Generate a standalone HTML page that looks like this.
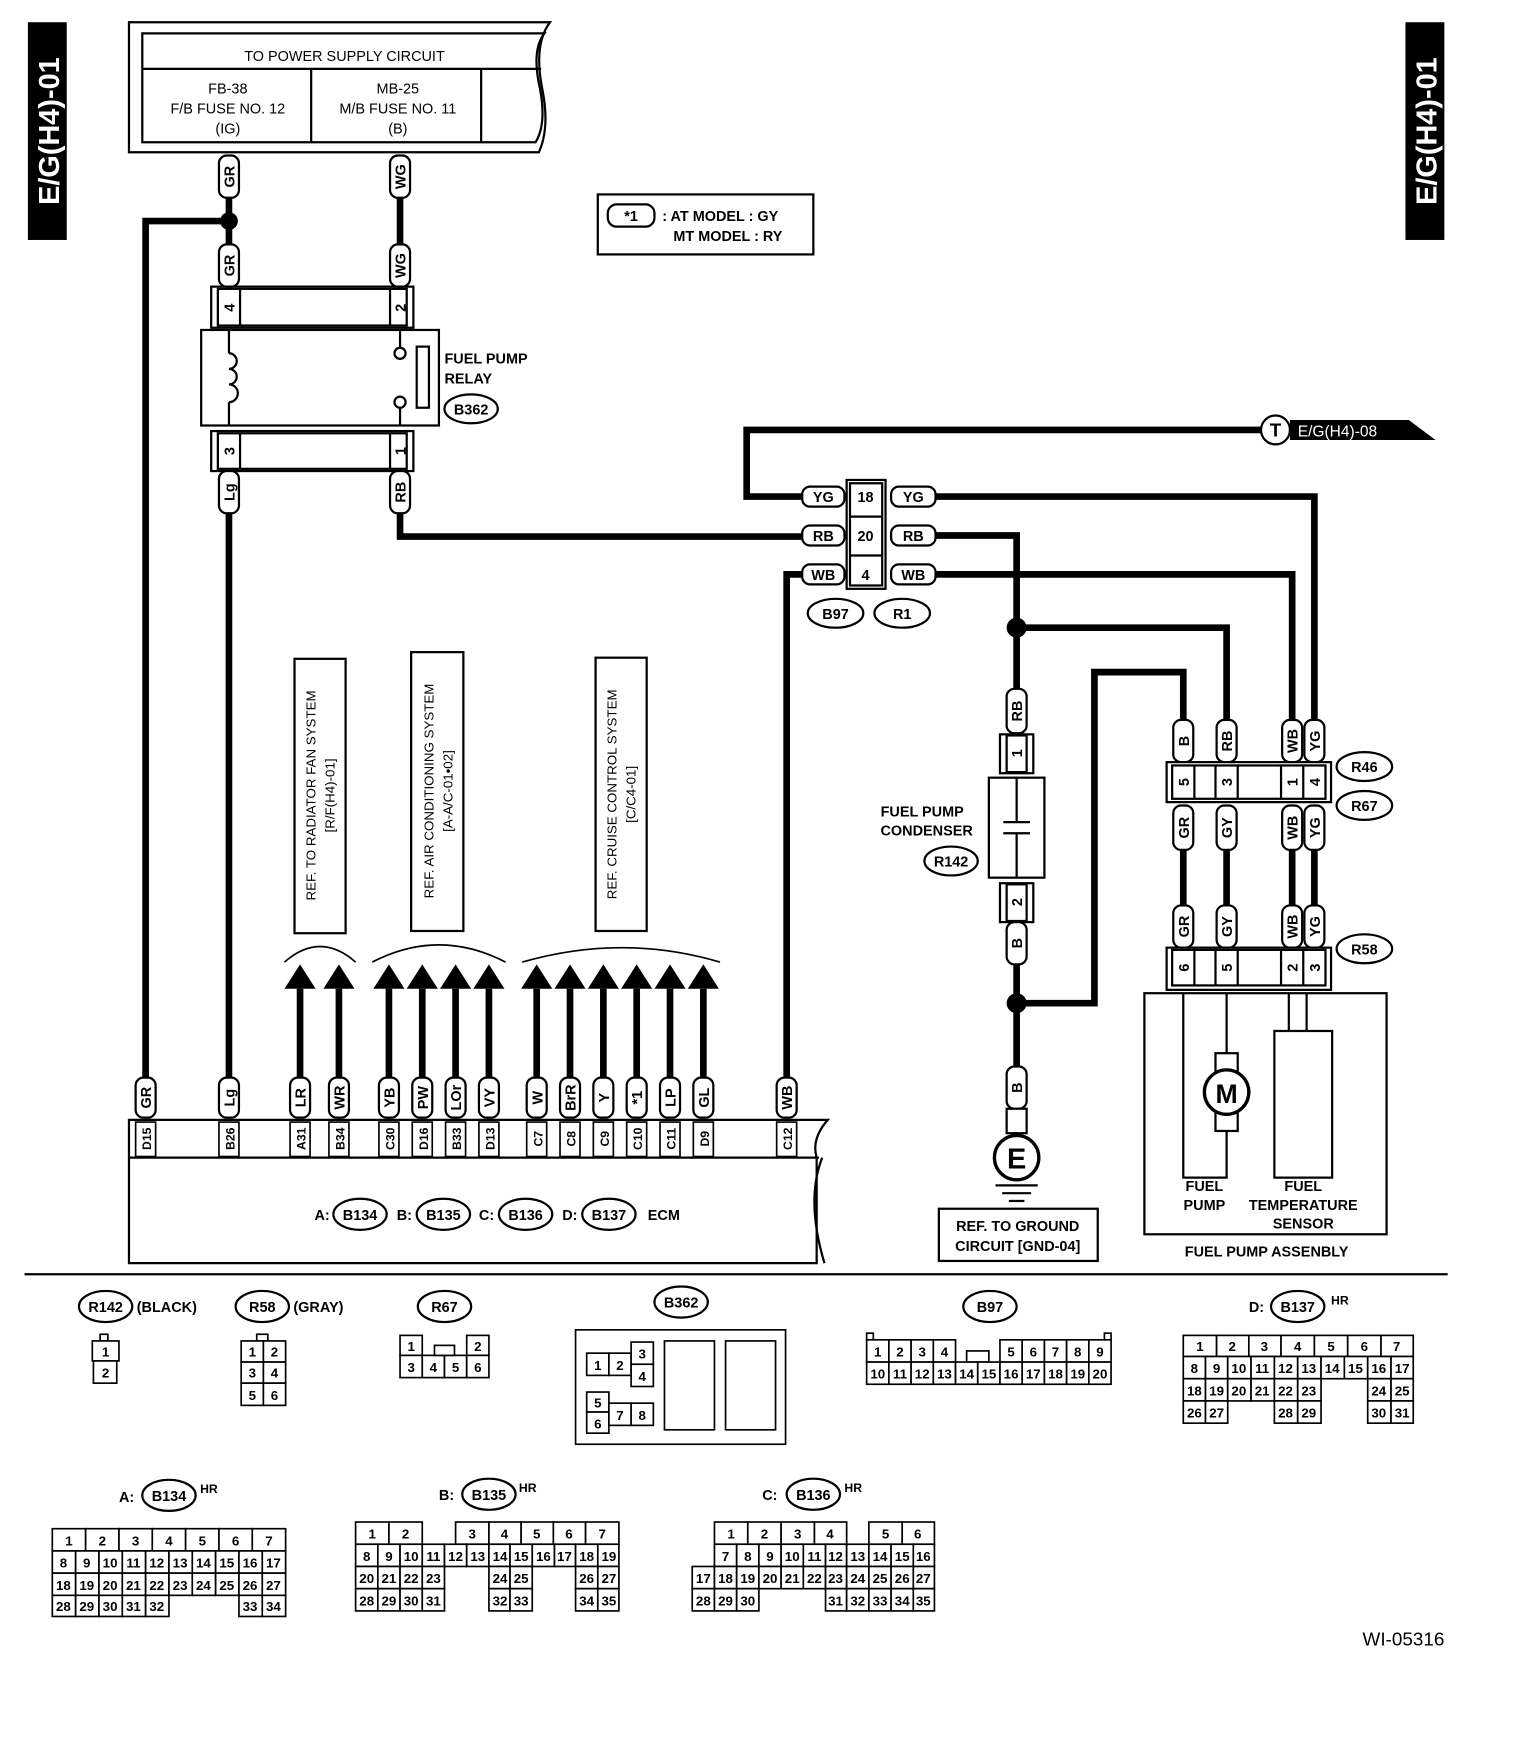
<!DOCTYPE html>
<html><head><meta charset="utf-8"><style>
html,body{margin:0;padding:0;background:#fff}
svg{display:block}
text{font-family:"Liberation Sans",sans-serif;font-weight:bold;fill:#000}
</style></head><body>
<svg width="1520" height="1742" viewBox="0 0 1368 1568" xmlns="http://www.w3.org/2000/svg">
<defs>
<style>.w{stroke:#000;stroke-width:6;fill:none}.t{stroke:#000;stroke-width:2;fill:#fff}.t1{stroke:#000;stroke-width:1.5;fill:#fff}.s{font-size:13px}.xs{font-size:11px}.n{font-size:12px;font-weight:normal}</style>
</defs>

<rect x="25" y="20" width="35" height="196" fill="#000"/>
<text transform="translate(53,118) rotate(-90)" text-anchor="middle" style="font-size:26px;fill:#fff">E/G(H4)-01</text>
<rect x="1265" y="20" width="35" height="196" fill="#000"/>
<text transform="translate(1293,118) rotate(-90)" text-anchor="middle" style="font-size:26px;fill:#fff">E/G(H4)-01</text>

<path d="M116,20 L495,20 Q480,40 488,80 Q495,115 485,137 L116,137 Z" class="t"/>
<path d="M128,30 L490,30 Q478,45 486,80 Q492,112 482,128 L128,128 Z" class="t"/>
<line x1="128" y1="62" x2="487" y2="62" stroke="#000" stroke-width="2"/>
<line x1="280" y1="62" x2="280" y2="128" stroke="#000" stroke-width="2"/>
<line x1="433" y1="62" x2="433" y2="128" stroke="#000" stroke-width="2"/>
<text x="310" y="55" text-anchor="middle" class="n" style="font-size:13px">TO POWER SUPPLY CIRCUIT</text>
<text x="205" y="84" text-anchor="middle" class="n" style="font-size:13px">FB-38</text>
<text x="205" y="102" text-anchor="middle" class="n" style="font-size:13px">F/B FUSE NO. 12</text>
<text x="205" y="120" text-anchor="middle" class="n" style="font-size:13px">(IG)</text>
<text x="358" y="84" text-anchor="middle" class="n" style="font-size:13px">MB-25</text>
<text x="358" y="102" text-anchor="middle" class="n" style="font-size:13px">M/B FUSE NO. 11</text>
<text x="358" y="120" text-anchor="middle" class="n" style="font-size:13px">(B)</text>

<g class="w">
<path d="M206,178 V220"/><path d="M360,178 V220"/>
<path d="M206,199 H131 V975"/>
<path d="M206,462 V975"/>
<path d="M360,462 V483 H722"/>
<path d="M722,447 H672 V387 H1135"/>
<path d="M842,447 H1183 V648"/>
<path d="M842,482 H915 V620"/>
<path d="M915,565 H1104 V648"/>
<path d="M842,517 H1163 V648"/>
<path d="M722,517 H708 V970"/>
<path d="M915,868 V960"/>
<path d="M915,903 H985 V605 H1065 V648"/>
<path d="M1065,765 V815"/><path d="M1104,765 V815"/><path d="M1163,765 V815"/><path d="M1183,765 V815"/>
<path d="M270,890 V970"/><path d="M305,890 V970"/>
<path d="M350,890 V970"/><path d="M380,890 V970"/><path d="M410,890 V970"/><path d="M440,890 V970"/>
<path d="M483,890 V970"/><path d="M513,890 V970"/><path d="M543,890 V970"/><path d="M573,890 V970"/><path d="M603,890 V970"/><path d="M633,890 V970"/>
</g>
<circle cx="206" cy="199" r="8"/>
<circle cx="915" cy="565" r="9"/>
<circle cx="915" cy="903" r="9"/>

<g fill="#000">
<path d="M270,868 l-14,22 h28z"/><path d="M305,868 l-14,22 h28z"/>
<path d="M350,868 l-14,22 h28z"/><path d="M380,868 l-14,22 h28z"/><path d="M410,868 l-14,22 h28z"/><path d="M440,868 l-14,22 h28z"/>
<path d="M483,868 l-14,22 h28z"/><path d="M513,868 l-14,22 h28z"/><path d="M543,868 l-14,22 h28z"/><path d="M573,868 l-14,22 h28z"/><path d="M603,868 l-14,22 h28z"/><path d="M633,868 l-14,22 h28z"/>
</g>
<g fill="none" stroke="#000" stroke-width="1.5">
<path d="M256,866 Q288,838 320,866"/>
<path d="M335,866 Q395,835 455,866"/>
<path d="M470,866 Q560,840 648,866"/>
</g>

<rect x="265" y="593" width="46" height="247" class="t"/>
<text transform="translate(284,716) rotate(-90)" text-anchor="middle" class="n" style="font-size:12px">REF. TO RADIATOR FAN SYSTEM</text>
<text transform="translate(301,716) rotate(-90)" text-anchor="middle" class="n" style="font-size:12px">[R/F(H4)-01]</text>
<rect x="370" y="587" width="47" height="251" class="t"/>
<text transform="translate(390,712) rotate(-90)" text-anchor="middle" class="n" style="font-size:12px">REF. AIR CONDITIONING SYSTEM</text>
<text transform="translate(407,712) rotate(-90)" text-anchor="middle" class="n" style="font-size:12px">[A-A/C-01•02]</text>
<rect x="536" y="592" width="46" height="246" class="t"/>
<text transform="translate(555,715) rotate(-90)" text-anchor="middle" class="n" style="font-size:12px">REF. CRUISE CONTROL SYSTEM</text>
<text transform="translate(572,715) rotate(-90)" text-anchor="middle" class="n" style="font-size:12px">[C/C4-01]</text>

<rect x="190" y="258" width="182" height="37" class="t"/>
<rect x="196" y="260" width="170" height="33" class="t"/>
<line x1="216" y1="260" x2="216" y2="293" stroke="#000" stroke-width="2"/>
<line x1="351" y1="260" x2="351" y2="293" stroke="#000" stroke-width="2"/>
<text transform="translate(211,277) rotate(-90)" text-anchor="middle" class="s">4</text>
<text transform="translate(365,277) rotate(-90)" text-anchor="middle" class="s">2</text>
<rect x="181" y="297" width="214" height="86" class="t"/>
<g fill="none" stroke="#000" stroke-width="2">
<path d="M206,297 V318"/><path d="M206,362 V383"/>
<path d="M206,318 a7,7 0 0 1 0,14 a7,7 0 0 1 0,14 a7,7 0 0 1 0,16"/>
<circle cx="360" cy="318" r="5"/><circle cx="360" cy="362" r="5"/>
<path d="M360,297 V313"/><path d="M360,367 V383"/>
<rect x="375" y="312" width="11" height="55"/>
</g>
<rect x="190" y="388" width="182" height="36" class="t"/>
<rect x="196" y="390" width="170" height="32" class="t"/>
<line x1="216" y1="390" x2="216" y2="422" stroke="#000" stroke-width="2"/>
<line x1="351" y1="390" x2="351" y2="422" stroke="#000" stroke-width="2"/>
<text transform="translate(211,406) rotate(-90)" text-anchor="middle" class="s">3</text>
<text transform="translate(365,406) rotate(-90)" text-anchor="middle" class="s">1</text>
<text x="400" y="327" class="s">FUEL PUMP</text>
<text x="400" y="345" class="s">RELAY</text>
<ellipse cx="424" cy="368" rx="24" ry="13" class="t"/>
<text x="424" y="373" text-anchor="middle" class="s">B362</text>

<g>
<rect x="197" y="140" width="18" height="38" rx="7" class="t"/><text transform="translate(211,159) rotate(-90)" text-anchor="middle" class="s">GR</text>
<rect x="351" y="140" width="18" height="38" rx="7" class="t"/><text transform="translate(365,159) rotate(-90)" text-anchor="middle" class="s">WG</text>
<rect x="197" y="220" width="18" height="38" rx="7" class="t"/><text transform="translate(211,239) rotate(-90)" text-anchor="middle" class="s">GR</text>
<rect x="351" y="220" width="18" height="38" rx="7" class="t"/><text transform="translate(365,239) rotate(-90)" text-anchor="middle" class="s">WG</text>
<rect x="197" y="424" width="18" height="38" rx="7" class="t"/><text transform="translate(211,443) rotate(-90)" text-anchor="middle" class="s">Lg</text>
<rect x="351" y="424" width="18" height="38" rx="7" class="t"/><text transform="translate(365,443) rotate(-90)" text-anchor="middle" class="s">RB</text>
</g>

<circle cx="1148" cy="387" r="13" class="t"/>
<text x="1148" y="393" text-anchor="middle" style="font-size:17px">T</text>
<path d="M1161,378 H1268 L1292,396 H1161 Z" fill="#000"/>
<text x="1168" y="393" style="font-size:14px;fill:#fff;font-weight:normal">E/G(H4)-08</text>

<rect x="762" y="432" width="35" height="98" class="t"/>
<rect x="765" y="435" width="29" height="92" class="t"/>
<line x1="765" y1="465" x2="794" y2="465" stroke="#000" stroke-width="2"/>
<line x1="765" y1="500" x2="794" y2="500" stroke="#000" stroke-width="2"/>
<text x="779" y="452" text-anchor="middle" class="s">18</text>
<text x="779" y="487" text-anchor="middle" class="s">20</text>
<text x="779" y="522" text-anchor="middle" class="s">4</text>
<g>
<rect x="722" y="438" width="38" height="18" rx="7" class="t"/><text x="741" y="452" text-anchor="middle" class="s">YG</text>
<rect x="722" y="473" width="38" height="18" rx="7" class="t"/><text x="741" y="487" text-anchor="middle" class="s">RB</text>
<rect x="722" y="508" width="38" height="18" rx="7" class="t"/><text x="741" y="522" text-anchor="middle" class="s">WB</text>
<rect x="802" y="438" width="40" height="18" rx="7" class="t"/><text x="822" y="452" text-anchor="middle" class="s">YG</text>
<rect x="802" y="473" width="40" height="18" rx="7" class="t"/><text x="822" y="487" text-anchor="middle" class="s">RB</text>
<rect x="802" y="508" width="40" height="18" rx="7" class="t"/><text x="822" y="522" text-anchor="middle" class="s">WB</text>
</g>
<ellipse cx="752" cy="552" rx="25" ry="13" class="t"/><text x="752" y="557" text-anchor="middle" class="s">B97</text>
<ellipse cx="812" cy="552" rx="25" ry="13" class="t"/><text x="812" y="557" text-anchor="middle" class="s">R1</text>

<rect x="538" y="175" width="194" height="54" class="t"/>
<rect x="547" y="184" width="42" height="20" rx="8" class="t"/>
<text x="568" y="199" text-anchor="middle" class="s">*1</text>
<text x="596" y="199" class="s">: AT MODEL : GY</text>
<text x="606" y="217" class="s">MT MODEL : RY</text>

<rect x="906" y="620" width="18" height="40" rx="7" class="t"/><text transform="translate(920,640) rotate(-90)" text-anchor="middle" class="s">RB</text>
<rect x="900" y="661" width="30" height="35" fill="none" stroke="#000" stroke-width="2"/>
<rect x="906" y="662" width="18" height="33" class="t"/><text transform="translate(920,678) rotate(-90)" text-anchor="middle" class="s">1</text>
<rect x="890" y="700" width="50" height="90" class="t"/>
<g stroke="#000" stroke-width="2"><line x1="915" y1="700" x2="915" y2="740"/><line x1="915" y1="750" x2="915" y2="790"/><line x1="903" y1="740" x2="927" y2="740"/><line x1="903" y1="750" x2="927" y2="750"/></g>
<rect x="900" y="795" width="30" height="35" fill="none" stroke="#000" stroke-width="2"/>
<rect x="906" y="796" width="18" height="33" class="t"/><text transform="translate(920,812) rotate(-90)" text-anchor="middle" class="s">2</text>
<rect x="906" y="830" width="18" height="38" rx="7" class="t"/><text transform="translate(920,849) rotate(-90)" text-anchor="middle" class="s">B</text>
<text x="830" y="735" text-anchor="middle" class="s">FUEL PUMP</text>
<text x="834" y="752" text-anchor="middle" class="s">CONDENSER</text>
<ellipse cx="856" cy="775" rx="24" ry="13" class="t"/><text x="856" y="780" text-anchor="middle" class="s">R142</text>

<rect x="906" y="960" width="18" height="38" rx="7" class="t"/><text transform="translate(920,979) rotate(-90)" text-anchor="middle" class="s">B</text>
<rect x="906" y="998" width="18" height="22" class="t"/>
<circle cx="915" cy="1042" r="20" class="t" style="stroke-width:3"/>
<text x="915" y="1052" text-anchor="middle" style="font-size:26px">E</text>
<g stroke="#000" stroke-width="2"><line x1="896" y1="1067" x2="934" y2="1067"/><line x1="902" y1="1074" x2="928" y2="1074"/><line x1="908" y1="1081" x2="922" y2="1081"/></g>
<rect x="845" y="1088" width="143" height="47" class="t"/>
<text x="916" y="1108" text-anchor="middle" class="s">REF. TO GROUND</text>
<text x="916" y="1126" text-anchor="middle" class="s">CIRCUIT [GND-04]</text>

<g>
<rect x="1056" y="648" width="18" height="38" rx="7" class="t"/><text transform="translate(1070,667) rotate(-90)" text-anchor="middle" class="s">B</text>
<rect x="1095" y="648" width="18" height="38" rx="7" class="t"/><text transform="translate(1109,667) rotate(-90)" text-anchor="middle" class="s">RB</text>
<rect x="1154" y="648" width="18" height="38" rx="7" class="t"/><text transform="translate(1168,667) rotate(-90)" text-anchor="middle" class="s">WB</text>
<rect x="1174" y="648" width="18" height="38" rx="7" class="t"/><text transform="translate(1188,667) rotate(-90)" text-anchor="middle" class="s">YG</text>
</g>
<rect x="1050" y="686" width="148" height="36" class="t"/>
<rect x="1055" y="689" width="138" height="30" class="t"/>
<g stroke="#000" stroke-width="2"><line x1="1075" y1="689" x2="1075" y2="719"/><line x1="1094" y1="689" x2="1094" y2="719"/><line x1="1114" y1="689" x2="1114" y2="719"/><line x1="1153" y1="689" x2="1153" y2="719"/><line x1="1173" y1="689" x2="1173" y2="719"/></g>
<text transform="translate(1070,704) rotate(-90)" text-anchor="middle" class="s">5</text>
<text transform="translate(1109,704) rotate(-90)" text-anchor="middle" class="s">3</text>
<text transform="translate(1168,704) rotate(-90)" text-anchor="middle" class="s">1</text>
<text transform="translate(1188,704) rotate(-90)" text-anchor="middle" class="s">4</text>
<ellipse cx="1228" cy="690" rx="25" ry="13" class="t"/><text x="1228" y="695" text-anchor="middle" class="s">R46</text>
<ellipse cx="1228" cy="725" rx="25" ry="13" class="t"/><text x="1228" y="730" text-anchor="middle" class="s">R67</text>
<g>
<rect x="1056" y="725" width="18" height="40" rx="7" class="t"/><text transform="translate(1070,745) rotate(-90)" text-anchor="middle" class="s">GR</text>
<rect x="1095" y="725" width="18" height="40" rx="7" class="t"/><text transform="translate(1109,745) rotate(-90)" text-anchor="middle" class="s">GY</text>
<rect x="1154" y="725" width="18" height="40" rx="7" class="t"/><text transform="translate(1168,745) rotate(-90)" text-anchor="middle" class="s">WB</text>
<rect x="1174" y="725" width="18" height="40" rx="7" class="t"/><text transform="translate(1188,745) rotate(-90)" text-anchor="middle" class="s">YG</text>
<rect x="1056" y="815" width="18" height="38" rx="7" class="t"/><text transform="translate(1070,834) rotate(-90)" text-anchor="middle" class="s">GR</text>
<rect x="1095" y="815" width="18" height="38" rx="7" class="t"/><text transform="translate(1109,834) rotate(-90)" text-anchor="middle" class="s">GY</text>
<rect x="1154" y="815" width="18" height="38" rx="7" class="t"/><text transform="translate(1168,834) rotate(-90)" text-anchor="middle" class="s">WB</text>
<rect x="1174" y="815" width="18" height="38" rx="7" class="t"/><text transform="translate(1188,834) rotate(-90)" text-anchor="middle" class="s">YG</text>
</g>
<rect x="1050" y="853" width="148" height="38" class="t"/>
<rect x="1055" y="855" width="138" height="32" class="t"/>
<g stroke="#000" stroke-width="2"><line x1="1075" y1="855" x2="1075" y2="887"/><line x1="1094" y1="855" x2="1094" y2="887"/><line x1="1114" y1="855" x2="1114" y2="887"/><line x1="1153" y1="855" x2="1153" y2="887"/><line x1="1173" y1="855" x2="1173" y2="887"/></g>
<text transform="translate(1070,871) rotate(-90)" text-anchor="middle" class="s">6</text>
<text transform="translate(1109,871) rotate(-90)" text-anchor="middle" class="s">5</text>
<text transform="translate(1168,871) rotate(-90)" text-anchor="middle" class="s">2</text>
<text transform="translate(1188,871) rotate(-90)" text-anchor="middle" class="s">3</text>
<ellipse cx="1228" cy="854" rx="25" ry="13" class="t"/><text x="1228" y="859" text-anchor="middle" class="s">R58</text>

<rect x="1030" y="894" width="218" height="217" class="t"/>
<g fill="none" stroke="#000" stroke-width="2">
<path d="M1065,894 V1060 H1104 V1018"/><path d="M1104,894 V948"/>
<rect x="1094" y="948" width="20" height="70" fill="#fff"/>
<path d="M1160,894 V928"/><path d="M1176,894 V928"/>
<rect x="1147" y="928" width="52" height="132"/>
</g>
<circle cx="1104" cy="983" r="20" class="t" style="stroke-width:3"/>
<text x="1104" y="993" text-anchor="middle" style="font-size:24px">M</text>
<text x="1084" y="1072" text-anchor="middle" class="s">FUEL</text>
<text x="1084" y="1089" text-anchor="middle" class="s">PUMP</text>
<text x="1173" y="1072" text-anchor="middle" class="s">FUEL</text>
<text x="1173" y="1089" text-anchor="middle" class="s">TEMPERATURE</text>
<text x="1173" y="1106" text-anchor="middle" class="s">SENSOR</text>
<text x="1140" y="1131" text-anchor="middle" class="s">FUEL PUMP ASSENBLY</text>

<path d="M116,1008 H745 Q730,1025 735,1042 V1137 H116 Z" class="t"/>
<line x1="116" y1="1042" x2="737" y2="1042" stroke="#000" stroke-width="2"/>
<path d="M740,1042 Q725,1080 742,1137" fill="none" stroke="#000" stroke-width="2"/>
<g stroke="#000" stroke-width="1.5" fill="none">
<rect x="122" y="1010" width="18" height="31"/><rect x="197" y="1010" width="18" height="31"/>
<rect x="261" y="1010" width="18" height="31"/><rect x="296" y="1010" width="18" height="31"/>
<rect x="341" y="1010" width="18" height="31"/><rect x="371" y="1010" width="18" height="31"/><rect x="401" y="1010" width="18" height="31"/><rect x="431" y="1010" width="18" height="31"/>
<rect x="474" y="1010" width="18" height="31"/><rect x="504" y="1010" width="18" height="31"/><rect x="534" y="1010" width="18" height="31"/><rect x="564" y="1010" width="18" height="31"/><rect x="594" y="1010" width="18" height="31"/><rect x="624" y="1010" width="18" height="31"/>
<rect x="699" y="1010" width="18" height="31"/>
</g>
<g class="xs">
<text transform="translate(136,1025) rotate(-90)" text-anchor="middle">D15</text>
<text transform="translate(211,1025) rotate(-90)" text-anchor="middle">B26</text>
<text transform="translate(275,1025) rotate(-90)" text-anchor="middle">A31</text>
<text transform="translate(310,1025) rotate(-90)" text-anchor="middle">B34</text>
<text transform="translate(355,1025) rotate(-90)" text-anchor="middle">C30</text>
<text transform="translate(385,1025) rotate(-90)" text-anchor="middle">D16</text>
<text transform="translate(415,1025) rotate(-90)" text-anchor="middle">B33</text>
<text transform="translate(445,1025) rotate(-90)" text-anchor="middle">D13</text>
<text transform="translate(488,1025) rotate(-90)" text-anchor="middle">C7</text>
<text transform="translate(518,1025) rotate(-90)" text-anchor="middle">C8</text>
<text transform="translate(548,1025) rotate(-90)" text-anchor="middle">C9</text>
<text transform="translate(578,1025) rotate(-90)" text-anchor="middle">C10</text>
<text transform="translate(608,1025) rotate(-90)" text-anchor="middle">C11</text>
<text transform="translate(638,1025) rotate(-90)" text-anchor="middle">D9</text>
<text transform="translate(713,1025) rotate(-90)" text-anchor="middle">C12</text>
</g>
<g>
<rect x="122" y="970" width="18" height="36" rx="7" class="t"/><text transform="translate(136,988) rotate(-90)" text-anchor="middle" class="s">GR</text>
<rect x="197" y="970" width="18" height="36" rx="7" class="t"/><text transform="translate(211,988) rotate(-90)" text-anchor="middle" class="s">Lg</text>
<rect x="261" y="970" width="18" height="36" rx="7" class="t"/><text transform="translate(275,988) rotate(-90)" text-anchor="middle" class="s">LR</text>
<rect x="296" y="970" width="18" height="36" rx="7" class="t"/><text transform="translate(310,988) rotate(-90)" text-anchor="middle" class="s">WR</text>
<rect x="341" y="970" width="18" height="36" rx="7" class="t"/><text transform="translate(355,988) rotate(-90)" text-anchor="middle" class="s">YB</text>
<rect x="371" y="970" width="18" height="36" rx="7" class="t"/><text transform="translate(385,988) rotate(-90)" text-anchor="middle" class="s">PW</text>
<rect x="401" y="970" width="18" height="36" rx="7" class="t"/><text transform="translate(415,988) rotate(-90)" text-anchor="middle" class="s">LOr</text>
<rect x="431" y="970" width="18" height="36" rx="7" class="t"/><text transform="translate(445,988) rotate(-90)" text-anchor="middle" class="s">VY</text>
<rect x="474" y="970" width="18" height="36" rx="7" class="t"/><text transform="translate(488,988) rotate(-90)" text-anchor="middle" class="s">W</text>
<rect x="504" y="970" width="18" height="36" rx="7" class="t"/><text transform="translate(518,988) rotate(-90)" text-anchor="middle" class="s">BrR</text>
<rect x="534" y="970" width="18" height="36" rx="7" class="t"/><text transform="translate(548,988) rotate(-90)" text-anchor="middle" class="s">Y</text>
<rect x="564" y="970" width="18" height="36" rx="7" class="t"/><text transform="translate(578,988) rotate(-90)" text-anchor="middle" class="s">*1</text>
<rect x="594" y="970" width="18" height="36" rx="7" class="t"/><text transform="translate(608,988) rotate(-90)" text-anchor="middle" class="s">LP</text>
<rect x="624" y="970" width="18" height="36" rx="7" class="t"/><text transform="translate(638,988) rotate(-90)" text-anchor="middle" class="s">GL</text>
<rect x="699" y="970" width="18" height="36" rx="7" class="t"/><text transform="translate(713,988) rotate(-90)" text-anchor="middle" class="s">WB</text>
</g>
<text x="283" y="1098" class="s">A:</text>
<ellipse cx="324" cy="1093" rx="24" ry="14" class="t"/><text x="324" y="1098" text-anchor="middle" class="s">B134</text>
<text x="357" y="1098" class="s">B:</text>
<ellipse cx="399" cy="1093" rx="24" ry="14" class="t"/><text x="399" y="1098" text-anchor="middle" class="s">B135</text>
<text x="431" y="1098" class="s">C:</text>
<ellipse cx="473" cy="1093" rx="24" ry="14" class="t"/><text x="473" y="1098" text-anchor="middle" class="s">B136</text>
<text x="506" y="1098" class="s">D:</text>
<ellipse cx="548" cy="1093" rx="24" ry="14" class="t"/><text x="548" y="1098" text-anchor="middle" class="s">B137</text>
<text x="583" y="1098" class="s">ECM</text>

<line x1="22" y1="1147" x2="1303" y2="1147" stroke="#000" stroke-width="2"/>

<ellipse cx="95" cy="1176" rx="24" ry="14" class="t"/><text x="95" y="1181" text-anchor="middle" class="s">R142</text><text x="123" y="1181" class="s">(BLACK)</text>
<ellipse cx="236" cy="1176" rx="24" ry="14" class="t"/><text x="236" y="1181" text-anchor="middle" class="s">R58</text><text x="264" y="1181" class="s">(GRAY)</text>
<ellipse cx="400" cy="1176" rx="24" ry="14" class="t"/><text x="400" y="1181" text-anchor="middle" class="s">R67</text>
<ellipse cx="613" cy="1172" rx="24" ry="14" class="t"/><text x="613" y="1177" text-anchor="middle" class="s">B362</text>
<ellipse cx="891" cy="1176" rx="24" ry="14" class="t"/><text x="891" y="1181" text-anchor="middle" class="s">B97</text>
<text x="1124" y="1181" class="s">D:</text><ellipse cx="1168" cy="1176" rx="24" ry="14" class="t"/><text x="1168" y="1181" text-anchor="middle" class="s">B137</text><text x="1198" y="1174" class="xs">HR</text>
<text x="107" y="1352" class="s">A:</text><ellipse cx="152" cy="1346" rx="24" ry="14" class="t"/><text x="152" y="1351" text-anchor="middle" class="s">B134</text><text x="180" y="1344" class="xs">HR</text>
<text x="395" y="1350" class="s">B:</text><ellipse cx="440" cy="1345" rx="24" ry="14" class="t"/><text x="440" y="1350" text-anchor="middle" class="s">B135</text><text x="467" y="1343" class="xs">HR</text>
<text x="686" y="1350" class="s">C:</text><ellipse cx="732" cy="1345" rx="24" ry="14" class="t"/><text x="732" y="1350" text-anchor="middle" class="s">B136</text><text x="760" y="1343" class="xs">HR</text>
<text x="1300" y="1481" text-anchor="end" class="n" style="font-size:17px">WI-05316</text>

<g class="t1" style="font-size:12px">
<rect x="90" y="1201" width="7" height="6"/>
<rect x="83" y="1207" width="24" height="18"/><rect x="84" y="1225" width="21" height="20"/>
<rect x="231" y="1201" width="10" height="6"/>
<rect x="217" y="1207" width="20" height="19"/><rect x="237" y="1207" width="20" height="19"/>
<rect x="217" y="1226" width="20" height="19"/><rect x="237" y="1226" width="20" height="19"/>
<rect x="217" y="1245" width="20" height="20"/><rect x="237" y="1245" width="20" height="20"/>
<rect x="360" y="1202" width="20" height="18"/><rect x="420" y="1202" width="20" height="18"/>
<rect x="360" y="1220" width="20" height="20"/><rect x="380" y="1220" width="20" height="20"/><rect x="400" y="1220" width="20" height="20"/><rect x="420" y="1220" width="20" height="20"/>
<rect x="391" y="1211" width="18" height="9"/>
<rect x="518" y="1197" width="189" height="103"/>
<rect x="528" y="1218" width="20" height="20"/><rect x="548" y="1218" width="20" height="20"/>
<rect x="568" y="1208" width="20" height="20"/><rect x="568" y="1228" width="20" height="20"/>
<rect x="528" y="1253" width="20" height="18"/><rect x="528" y="1271" width="20" height="19"/>
<rect x="548" y="1263" width="20" height="20"/><rect x="568" y="1263" width="20" height="20"/>
<rect x="598" y="1207" width="45" height="80"/><rect x="653" y="1207" width="45" height="80"/>
</g>
<g style="font-size:12px;font-weight:normal" text-anchor="middle">
<text x="95" y="1221">1</text><text x="95" y="1240">2</text>
<text x="227" y="1221">1</text><text x="247" y="1221">2</text><text x="227" y="1240">3</text><text x="247" y="1240">4</text><text x="227" y="1260">5</text><text x="247" y="1260">6</text>
<text x="370" y="1216">1</text><text x="430" y="1216">2</text><text x="370" y="1235">3</text><text x="390" y="1235">4</text><text x="410" y="1235">5</text><text x="430" y="1235">6</text>
<text x="538" y="1233">1</text><text x="558" y="1233">2</text><text x="578" y="1223">3</text><text x="578" y="1243">4</text>
<text x="538" y="1267">5</text><text x="538" y="1286">6</text><text x="558" y="1278">7</text><text x="578" y="1278">8</text>
</g>

<g class="t1">
<rect x="780" y="1200" width="6" height="6"/><rect x="994" y="1200" width="6" height="6"/>
<rect x="780" y="1206" width="20" height="20"/><rect x="800" y="1206" width="20" height="20"/><rect x="820" y="1206" width="20" height="20"/><rect x="840" y="1206" width="20" height="20"/>
<rect x="870" y="1216" width="20" height="10"/>
<rect x="900" y="1206" width="20" height="20"/><rect x="920" y="1206" width="20" height="20"/><rect x="940" y="1206" width="20" height="20"/><rect x="960" y="1206" width="20" height="20"/><rect x="980" y="1206" width="20" height="20"/>
<rect x="780" y="1226" width="20" height="20"/><rect x="800" y="1226" width="20" height="20"/><rect x="820" y="1226" width="20" height="20"/><rect x="840" y="1226" width="20" height="20"/><rect x="860" y="1226" width="20" height="20"/><rect x="880" y="1226" width="20" height="20"/><rect x="900" y="1226" width="20" height="20"/><rect x="920" y="1226" width="20" height="20"/><rect x="940" y="1226" width="20" height="20"/><rect x="960" y="1226" width="20" height="20"/><rect x="980" y="1226" width="20" height="20"/>
</g>
<g style="font-size:12px;font-weight:normal" text-anchor="middle">
<text x="790" y="1221">1</text><text x="810" y="1221">2</text><text x="830" y="1221">3</text><text x="850" y="1221">4</text><text x="910" y="1221">5</text><text x="930" y="1221">6</text><text x="950" y="1221">7</text><text x="970" y="1221">8</text><text x="990" y="1221">9</text>
<text x="790" y="1241">10</text><text x="810" y="1241">11</text><text x="830" y="1241">12</text><text x="850" y="1241">13</text><text x="870" y="1241">14</text><text x="890" y="1241">15</text><text x="910" y="1241">16</text><text x="930" y="1241">17</text><text x="950" y="1241">18</text><text x="970" y="1241">19</text><text x="990" y="1241">20</text>
</g>

<g class="t1">
<rect x="1065" y="1202" width="30" height="19"/><rect x="1095" y="1202" width="29" height="19"/><rect x="1124" y="1202" width="29" height="19"/><rect x="1153" y="1202" width="30" height="19"/><rect x="1183" y="1202" width="30" height="19"/><rect x="1213" y="1202" width="30" height="19"/><rect x="1243" y="1202" width="29" height="19"/>
<rect x="1065" y="1221" width="20" height="20"/><rect x="1085" y="1221" width="20" height="20"/><rect x="1105" y="1221" width="21" height="20"/><rect x="1126" y="1221" width="21" height="20"/><rect x="1147" y="1221" width="21" height="20"/><rect x="1168" y="1221" width="21" height="20"/><rect x="1189" y="1221" width="21" height="20"/><rect x="1210" y="1221" width="21" height="20"/><rect x="1231" y="1221" width="21" height="20"/><rect x="1252" y="1221" width="20" height="20"/>
<rect x="1065" y="1241" width="20" height="20"/><rect x="1085" y="1241" width="20" height="20"/><rect x="1105" y="1241" width="21" height="20"/><rect x="1126" y="1241" width="21" height="20"/><rect x="1147" y="1241" width="21" height="20"/><rect x="1168" y="1241" width="21" height="20"/><rect x="1231" y="1241" width="21" height="20"/><rect x="1252" y="1241" width="20" height="20"/>
<rect x="1065" y="1261" width="20" height="20"/><rect x="1085" y="1261" width="20" height="20"/><rect x="1147" y="1261" width="21" height="20"/><rect x="1168" y="1261" width="21" height="20"/><rect x="1231" y="1261" width="21" height="20"/><rect x="1252" y="1261" width="20" height="20"/>
</g>
<g style="font-size:12px;font-weight:normal" text-anchor="middle">
<text x="1080" y="1216">1</text><text x="1109" y="1216">2</text><text x="1138" y="1216">3</text><text x="1168" y="1216">4</text><text x="1198" y="1216">5</text><text x="1228" y="1216">6</text><text x="1257" y="1216">7</text>
<text x="1075" y="1236">8</text><text x="1095" y="1236">9</text><text x="1115" y="1236">10</text><text x="1136" y="1236">11</text><text x="1157" y="1236">12</text><text x="1178" y="1236">13</text><text x="1199" y="1236">14</text><text x="1220" y="1236">15</text><text x="1241" y="1236">16</text><text x="1262" y="1236">17</text>
<text x="1075" y="1256">18</text><text x="1095" y="1256">19</text><text x="1115" y="1256">20</text><text x="1136" y="1256">21</text><text x="1157" y="1256">22</text><text x="1178" y="1256">23</text><text x="1241" y="1256">24</text><text x="1262" y="1256">25</text>
<text x="1075" y="1276">26</text><text x="1095" y="1276">27</text><text x="1157" y="1276">28</text><text x="1178" y="1276">29</text><text x="1241" y="1276">30</text><text x="1262" y="1276">31</text>
</g>

<g class="t1">
<rect x="47" y="1376" width="30" height="20"/><rect x="77" y="1376" width="30" height="20"/><rect x="107" y="1376" width="30" height="20"/><rect x="137" y="1376" width="30" height="20"/><rect x="167" y="1376" width="30" height="20"/><rect x="197" y="1376" width="30" height="20"/><rect x="227" y="1376" width="30" height="20"/>
<rect x="47" y="1396" width="21" height="20"/><rect x="68" y="1396" width="21" height="20"/><rect x="89" y="1396" width="21" height="20"/><rect x="110" y="1396" width="21" height="20"/><rect x="131" y="1396" width="21" height="20"/><rect x="152" y="1396" width="21" height="20"/><rect x="173" y="1396" width="21" height="20"/><rect x="194" y="1396" width="21" height="20"/><rect x="215" y="1396" width="21" height="20"/><rect x="236" y="1396" width="21" height="20"/>
<rect x="47" y="1416" width="21" height="20"/><rect x="68" y="1416" width="21" height="20"/><rect x="89" y="1416" width="21" height="20"/><rect x="110" y="1416" width="21" height="20"/><rect x="131" y="1416" width="21" height="20"/><rect x="152" y="1416" width="21" height="20"/><rect x="173" y="1416" width="21" height="20"/><rect x="194" y="1416" width="21" height="20"/><rect x="215" y="1416" width="21" height="20"/><rect x="236" y="1416" width="21" height="20"/>
<rect x="47" y="1436" width="21" height="19"/><rect x="68" y="1436" width="21" height="19"/><rect x="89" y="1436" width="21" height="19"/><rect x="110" y="1436" width="21" height="19"/><rect x="131" y="1436" width="21" height="19"/><rect x="215" y="1436" width="21" height="19"/><rect x="236" y="1436" width="21" height="19"/>
</g>
<g style="font-size:12px;font-weight:normal" text-anchor="middle">
<text x="62" y="1391">1</text><text x="92" y="1391">2</text><text x="122" y="1391">3</text><text x="152" y="1391">4</text><text x="182" y="1391">5</text><text x="212" y="1391">6</text><text x="242" y="1391">7</text>
<text x="57" y="1411">8</text><text x="78" y="1411">9</text><text x="99" y="1411">10</text><text x="120" y="1411">11</text><text x="141" y="1411">12</text><text x="162" y="1411">13</text><text x="183" y="1411">14</text><text x="204" y="1411">15</text><text x="225" y="1411">16</text><text x="246" y="1411">17</text>
<text x="57" y="1431">18</text><text x="78" y="1431">19</text><text x="99" y="1431">20</text><text x="120" y="1431">21</text><text x="141" y="1431">22</text><text x="162" y="1431">23</text><text x="183" y="1431">24</text><text x="204" y="1431">25</text><text x="225" y="1431">26</text><text x="246" y="1431">27</text>
<text x="57" y="1450">28</text><text x="78" y="1450">29</text><text x="99" y="1450">30</text><text x="120" y="1450">31</text><text x="141" y="1450">32</text><text x="225" y="1450">33</text><text x="246" y="1450">34</text>
</g>

<g class="t1">
<rect x="320" y="1370" width="30" height="20"/><rect x="350" y="1370" width="30" height="20"/>
<rect x="410" y="1370" width="30" height="20"/><rect x="440" y="1370" width="29" height="20"/><rect x="469" y="1370" width="29" height="20"/><rect x="498" y="1370" width="29" height="20"/><rect x="527" y="1370" width="30" height="20"/>
<rect x="320" y="1390" width="20" height="20"/><rect x="340" y="1390" width="20" height="20"/><rect x="360" y="1390" width="20" height="20"/><rect x="380" y="1390" width="20" height="20"/><rect x="400" y="1390" width="20" height="20"/><rect x="420" y="1390" width="20" height="20"/><rect x="440" y="1390" width="19" height="20"/><rect x="459" y="1390" width="20" height="20"/><rect x="479" y="1390" width="20" height="20"/><rect x="499" y="1390" width="19" height="20"/><rect x="518" y="1390" width="20" height="20"/><rect x="538" y="1390" width="19" height="20"/>
<rect x="320" y="1410" width="20" height="20"/><rect x="340" y="1410" width="20" height="20"/><rect x="360" y="1410" width="20" height="20"/><rect x="380" y="1410" width="20" height="20"/><rect x="440" y="1410" width="19" height="20"/><rect x="459" y="1410" width="20" height="20"/><rect x="518" y="1410" width="20" height="20"/><rect x="538" y="1410" width="19" height="20"/>
<rect x="320" y="1430" width="20" height="20"/><rect x="340" y="1430" width="20" height="20"/><rect x="360" y="1430" width="20" height="20"/><rect x="380" y="1430" width="20" height="20"/><rect x="440" y="1430" width="19" height="20"/><rect x="459" y="1430" width="20" height="20"/><rect x="518" y="1430" width="20" height="20"/><rect x="538" y="1430" width="19" height="20"/>
</g>
<g style="font-size:12px;font-weight:normal" text-anchor="middle">
<text x="335" y="1385">1</text><text x="365" y="1385">2</text><text x="425" y="1385">3</text><text x="454" y="1385">4</text><text x="483" y="1385">5</text><text x="512" y="1385">6</text><text x="542" y="1385">7</text>
<text x="330" y="1405">8</text><text x="350" y="1405">9</text><text x="370" y="1405">10</text><text x="390" y="1405">11</text><text x="410" y="1405">12</text><text x="430" y="1405">13</text><text x="450" y="1405">14</text><text x="469" y="1405">15</text><text x="489" y="1405">16</text><text x="508" y="1405">17</text><text x="528" y="1405">18</text><text x="548" y="1405">19</text>
<text x="330" y="1425">20</text><text x="350" y="1425">21</text><text x="370" y="1425">22</text><text x="390" y="1425">23</text><text x="450" y="1425">24</text><text x="469" y="1425">25</text><text x="528" y="1425">26</text><text x="548" y="1425">27</text>
<text x="330" y="1445">28</text><text x="350" y="1445">29</text><text x="370" y="1445">30</text><text x="390" y="1445">31</text><text x="450" y="1445">32</text><text x="469" y="1445">33</text><text x="528" y="1445">34</text><text x="548" y="1445">35</text>
</g>

<g class="t1">
<rect x="643" y="1370" width="30" height="20"/><rect x="673" y="1370" width="30" height="20"/><rect x="703" y="1370" width="30" height="20"/><rect x="733" y="1370" width="29" height="20"/>
<rect x="782" y="1370" width="30" height="20"/><rect x="812" y="1370" width="29" height="20"/>
<rect x="643" y="1390" width="20" height="20"/><rect x="663" y="1390" width="20" height="20"/><rect x="683" y="1390" width="20" height="20"/><rect x="703" y="1390" width="20" height="20"/><rect x="723" y="1390" width="20" height="20"/><rect x="743" y="1390" width="19" height="20"/><rect x="762" y="1390" width="20" height="20"/><rect x="782" y="1390" width="20" height="20"/><rect x="802" y="1390" width="20" height="20"/><rect x="822" y="1390" width="19" height="20"/>
<rect x="623" y="1410" width="20" height="20"/><rect x="643" y="1410" width="20" height="20"/><rect x="663" y="1410" width="20" height="20"/><rect x="683" y="1410" width="20" height="20"/><rect x="703" y="1410" width="20" height="20"/><rect x="723" y="1410" width="20" height="20"/><rect x="743" y="1410" width="19" height="20"/><rect x="762" y="1410" width="20" height="20"/><rect x="782" y="1410" width="20" height="20"/><rect x="802" y="1410" width="20" height="20"/><rect x="822" y="1410" width="19" height="20"/>
<rect x="623" y="1430" width="20" height="20"/><rect x="643" y="1430" width="20" height="20"/><rect x="663" y="1430" width="20" height="20"/><rect x="743" y="1430" width="19" height="20"/><rect x="762" y="1430" width="20" height="20"/><rect x="782" y="1430" width="20" height="20"/><rect x="802" y="1430" width="20" height="20"/><rect x="822" y="1430" width="19" height="20"/>
</g>
<g style="font-size:12px;font-weight:normal" text-anchor="middle">
<text x="658" y="1385">1</text><text x="688" y="1385">2</text><text x="718" y="1385">3</text><text x="747" y="1385">4</text><text x="797" y="1385">5</text><text x="826" y="1385">6</text>
<text x="653" y="1405">7</text><text x="673" y="1405">8</text><text x="693" y="1405">9</text><text x="713" y="1405">10</text><text x="733" y="1405">11</text><text x="752" y="1405">12</text><text x="772" y="1405">13</text><text x="792" y="1405">14</text><text x="812" y="1405">15</text><text x="831" y="1405">16</text>
<text x="633" y="1425">17</text><text x="653" y="1425">18</text><text x="673" y="1425">19</text><text x="693" y="1425">20</text><text x="713" y="1425">21</text><text x="733" y="1425">22</text><text x="752" y="1425">23</text><text x="772" y="1425">24</text><text x="792" y="1425">25</text><text x="812" y="1425">26</text><text x="831" y="1425">27</text>
<text x="633" y="1445">28</text><text x="653" y="1445">29</text><text x="673" y="1445">30</text><text x="752" y="1445">31</text><text x="772" y="1445">32</text><text x="792" y="1445">33</text><text x="812" y="1445">34</text><text x="831" y="1445">35</text>
</g>
</svg>
</body></html>
